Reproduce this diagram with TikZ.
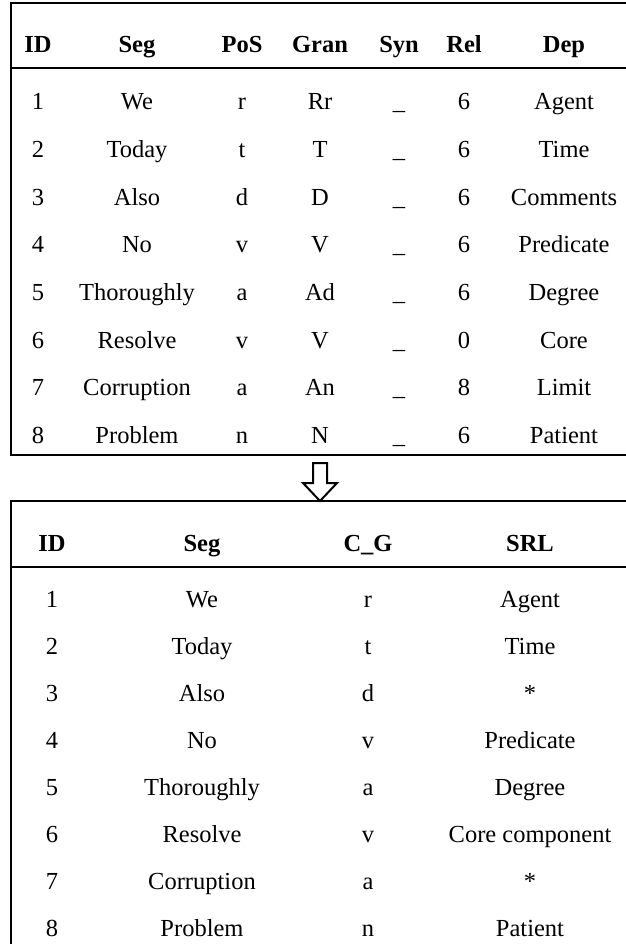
\documentclass[tikz,border=0pt]{standalone}
\usepackage{fontspec}
\setmainfont{Liberation Serif}
\begin{document}
\begin{tikzpicture}[x=1pt,y=-1pt,
  cell/.style={anchor=base,inner sep=0pt,font=\fontsize{24.5}{29}\selectfont},
  head/.style={cell,font=\fontsize{24.5}{29}\selectfont\bfseries},
  rule/.style={line width=2.6pt},
  blockarrow/.style={line width=2pt,fill=white,line join=miter}]
\useasboundingbox (0,0) rectangle (625,944);

% upper table: open frame on the right
\draw[rule] (632,3) -- (11,3) -- (11,455) -- (632,455);
\draw[rule] (11,68) -- (632,68);

% upper table header
\foreach \x/\t [count=\k] in {38/ID,137/Seg,242/PoS,320/Gran,399/Syn,464/Rel,564/Dep}
  \node[head] (uh\k) at (\x,53) {\t};

% upper table body
\foreach \id/\seg/\pos/\gran/\syn/\rel/\dep [count=\r] in {
    1/We/r/Rr/\_/6/Agent,
    2/Today/t/T/\_/6/Time,
    3/Also/d/D/\_/6/Comments,
    4/No/v/V/\_/6/Predicate,
    5/Thoroughly/a/Ad/\_/6/Degree,
    6/Resolve/v/V/\_/0/Core,
    7/Corruption/a/An/\_/8/Limit,
    8/Problem/n/N/\_/6/Patient}{
  \pgfmathsetmacro{\yb}{110+47.6*(\r-1)}
  \node[cell] (u\r-1) at (38,\yb) {\id};
  \node[cell] (u\r-2) at (137,\yb) {\seg};
  \node[cell] (u\r-3) at (242,\yb) {\pos};
  \node[cell] (u\r-4) at (320,\yb) {\gran};
  \node[cell] (u\r-5) at (399,\yb) {\syn};
  \node[cell] (u\r-6) at (464,\yb) {\rel};
  \node[cell] (u\r-7) at (564,\yb) {\dep};
}

% hollow down arrow between the tables
\draw[blockarrow] (313,463) -- (327,463) -- (327,483) -- (337,483)
  -- (320,501) -- (303,483) -- (313,483) -- cycle;

% lower table: open on the right and at the bottom
\draw[rule] (632,501) -- (11,501) -- (11,946);
\draw[rule] (11,567) -- (632,567);

% lower table header
\foreach \x/\t [count=\k] in {52/ID,202/Seg,368/C\_G,530/SRL}
  \node[head] (lh\k) at (\x,551) {\t};

% lower table body
\foreach \id/\seg/\cg/\srl [count=\r] in {
    1/We/r/Agent,
    2/Today/t/Time,
    3/Also/d/*,
    4/No/v/Predicate,
    5/Thoroughly/a/Degree,
    6/Resolve/v/Core component,
    7/Corruption/a/*,
    8/Problem/n/Patient}{
  \pgfmathsetmacro{\yb}{607+47*(\r-1)}
  \node[cell] (l\r-1) at (52,\yb) {\id};
  \node[cell] (l\r-2) at (202,\yb) {\seg};
  \node[cell] (l\r-3) at (368,\yb) {\cg};
  \node[cell] (l\r-4) at (530,\yb) {\srl};
}
\end{tikzpicture}
\end{document}
